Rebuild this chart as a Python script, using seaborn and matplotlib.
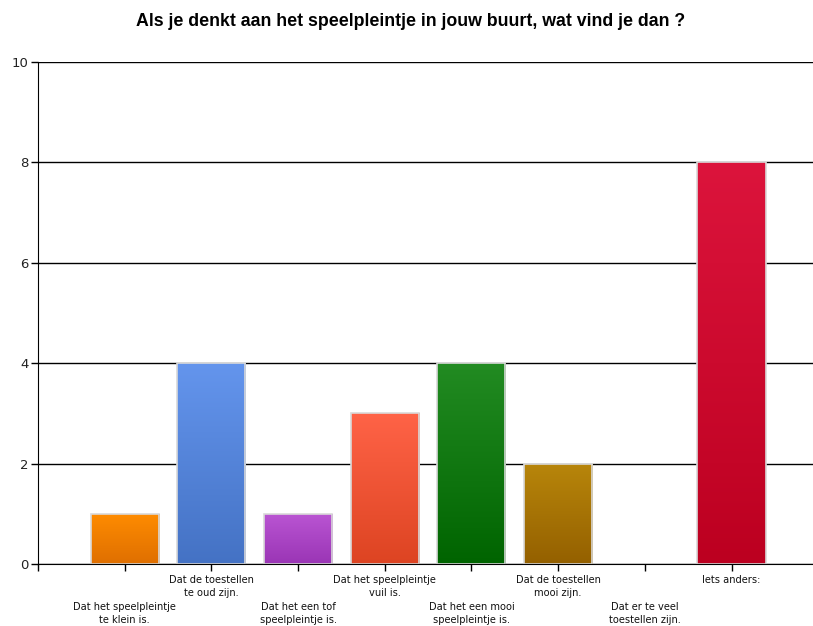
#!/usr/bin/env python3

# Bar chart: speelpleintje survey answers, gradient bars

import numpy as np
import pandas as pd
import seaborn as sns
import matplotlib.pyplot as plt
from matplotlib.colors import LinearSegmentedColormap

answers = ["Dat het speelpleintje\nte klein is.", "Dat de toestellen\nte oud zijn.",
           "Dat het een tof\nspeelpleintje is.", "Dat het speelpleintje\nvuil is.",
           "Dat het een mooi\nspeelpleintje is.", "Dat de toestellen\nmooi zijn.",
           "Dat er te veel\ntoestellen zijn.", "Iets anders:"]
counts = [1, 4, 1, 3, 4, 2, 0, 8]
top_colors = ["#FF8C00", "#6495ED", "#BA55D3", "#FF6347", "#228B22", "#B8860B", "#999999", "#DC143C"]
bottom_colors = ["#DF6F00", "#4472C4", "#9A35B5", "#DD4422", "#006400", "#946000", "#777777", "#BC0020"]

sns.set_style("white")
plt.rcParams["font.family"] = ["DejaVu Sans"]

dta = pd.DataFrame({"answer": answers, "count": counts})

fig = plt.figure(figsize=(8.13, 6.26), dpi=100)
ax = fig.add_axes([38 / 813, 62 / 626, 1 - 38 / 813, 502 / 626])

sns.barplot(x="answer", y="count", hue="answer", data=dta, palette=top_colors,
            width=0.785, legend=False, ax=ax)

# gradient fill per bar, clipped to its rectangle
for patch, c_top, c_bot in zip(ax.patches, top_colors, bottom_colors):
    x0, y0 = patch.get_x(), patch.get_y()
    w, h = patch.get_width(), patch.get_height()
    if h <= 0:
        patch.set_visible(False)
        continue
    cmap = LinearSegmentedColormap.from_list("g", [c_bot, c_top])
    grad = np.linspace(0, 1, 256).reshape(-1, 1)
    im = ax.imshow(grad, cmap=cmap, aspect="auto", origin="lower",
                   extent=[x0, x0 + w, y0, y0 + h], zorder=0.9)
    im.set_clip_path(patch)
    patch.set_facecolor("none")
    patch.set_edgecolor("#d9d9d9")
    patch.set_linewidth(1.2)
    patch.set_zorder(1)

ax.set_xlim(-1, 7.94)
ax.set_ylim(0, 10)
ax.set_yticks([0, 2, 4, 6, 8, 10])
ax.yaxis.grid(True, color="black", linewidth=1.0)
ax.set_axisbelow(True)

ticklabels = [("\n\n" + a if i % 2 == 0 else a) for i, a in enumerate(answers)]
ax.set_xticks([-1] + list(range(len(answers))))
ax.set_xticklabels([""] + ticklabels, fontsize=7.1, color="#111111", linespacing=1.42)
ax.tick_params(axis="x", direction="out", length=5, width=1, color="black", pad=3, bottom=True)
ax.tick_params(axis="y", direction="out", length=5, width=1, color="black", pad=2, left=True,
               labelsize=9.5, labelcolor="#222222")
ax.set_xlabel("")
ax.set_ylabel("")

for s in ["top", "right"]:
    ax.spines[s].set_visible(False)
ax.spines["left"].set_color("black")
ax.spines["bottom"].set_color("black")
ax.set_xlim(-1, 7.94)
ax.set_ylim(0, 10)

fig.text(0.505, 1 - 21 / 626, "Als je denkt aan het speelpleintje in jouw buurt, wat vind je dan ?",
         ha="center", va="center", fontsize=12.8, fontweight="bold", color="black",
         family="Liberation Sans")

fig.savefig("out.png", dpi=100)
